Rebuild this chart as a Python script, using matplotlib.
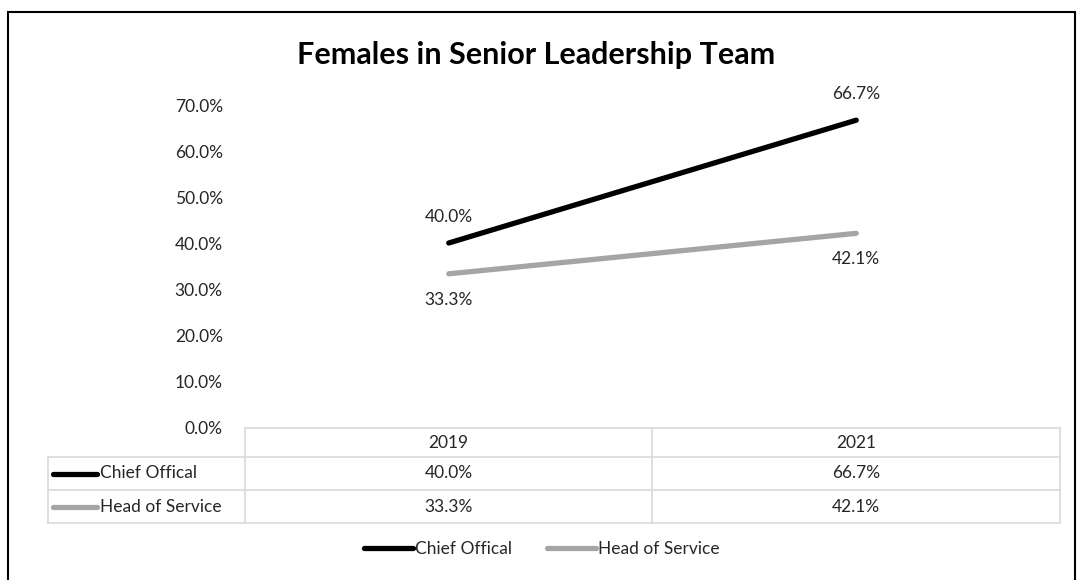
import matplotlib
matplotlib.use('Agg')
import matplotlib.pyplot as plt
from matplotlib.lines import Line2D
from matplotlib.patches import Rectangle

# Data
years = ['2019', '2021']
series_names = ['Chief Offical', 'Head of Service']
chief = [0.400, 0.667]
head = [0.333, 0.421]
series_values = [chief, head]
series_colors = ['#000000', '#a5a5a5']
yticks = [0.0, 0.1, 0.2, 0.3, 0.4, 0.5, 0.6, 0.7]

plt.rcParams['font.family'] = ['Lato', 'DejaVu Sans']
FS = 12.5
TXT = '#262626'

W, H = 1080, 580
fig = plt.figure(figsize=(W / 100, H / 100), dpi=100)


def fx(px):
    return px / W


def fy(py):
    return 1 - py / H


# outer border
fig.add_artist(Rectangle((fx(8), fy(580) - 0.01), fx(1075) - fx(8), fy(12) - fy(580) + 0.01,
                         transform=fig.transFigure, fill=False, edgecolor='black', linewidth=1.5))

# plot area
x0, x1 = 245, 1060
y0, y1 = 427, 105
ax = fig.add_axes([fx(x0), fy(y0), fx(x1) - fx(x0), fy(y1) - fy(y0)])
ax.set_xlim(-0.5, len(years) - 0.5)
ax.set_ylim(0, 0.70)
for s in ax.spines.values():
    s.set_visible(False)
ax.set_xticks([])
ax.set_yticks(yticks)
ax.set_yticklabels([f'{v * 100:.1f}%' for v in yticks], fontsize=FS, color=TXT)
ax.tick_params(axis='y', length=0, pad=16)
ax.patch.set_alpha(0)

xs = list(range(len(years)))
for vals, col in zip(series_values, series_colors):
    ax.plot(xs, vals, color=col, linewidth=3.8, solid_capstyle='round')

# data labels: Chief above, Head below
for x, v in zip(xs, chief):
    ax.annotate(f'{v * 100:.1f}%', (x, v), xytext=(0, 13), textcoords='offset points',
                ha='center', va='bottom', fontsize=FS, color=TXT)
for x, v in zip(xs, head):
    ax.annotate(f'{v * 100:.1f}%', (x, v), xytext=(0, -13), textcoords='offset points',
                ha='center', va='top', fontsize=FS, color=TXT)

fig.text(fx(536), fy(55), 'Females in Senior Leadership Team', ha='center', va='center',
         fontsize=22, fontweight='bold', color='black')

# data table
grid_col = '#d9d9d9'
col_edges = [48, 245, 652, 1060]
row_edges = [428, 457, 490, 523]


def hline(y, xa, xb):
    fig.add_artist(Line2D([fx(xa), fx(xb)], [fy(y), fy(y)], transform=fig.transFigure,
                          color=grid_col, linewidth=1.2))


def vline(x, ya, yb):
    fig.add_artist(Line2D([fx(x), fx(x)], [fy(ya), fy(yb)], transform=fig.transFigure,
                          color=grid_col, linewidth=1.2))


hline(row_edges[0], col_edges[1], col_edges[-1])
for y in row_edges[1:]:
    hline(y, col_edges[0], col_edges[-1])
vline(col_edges[0], row_edges[1], row_edges[-1])
for x in col_edges[1:]:
    vline(x, row_edges[0], row_edges[-1])

for j, yr in enumerate(years):
    cx = (col_edges[j + 1] + col_edges[j + 2]) / 2
    fig.text(fx(cx), fy((row_edges[0] + row_edges[1]) / 2), yr, ha='center', va='center',
             fontsize=FS, color=TXT)

for i, (name, vals, col) in enumerate(zip(series_names, series_values, series_colors)):
    cy = (row_edges[i + 1] + row_edges[i + 2]) / 2
    fig.add_artist(Line2D([fx(53), fx(97)], [fy(cy), fy(cy)], transform=fig.transFigure,
                          color=col, linewidth=3.8, solid_capstyle='round'))
    fig.text(fx(100), fy(cy), name, ha='left', va='center', fontsize=FS, color=TXT)
    for j, v in enumerate(vals):
        cx = (col_edges[j + 1] + col_edges[j + 2]) / 2
        fig.text(fx(cx), fy(cy), f'{v * 100:.1f}%', ha='center', va='center',
                 fontsize=FS, color=TXT)

# bottom legend
handles = [Line2D([], [], color=c, linewidth=3.8, solid_capstyle='round') for c in series_colors]
fig.legend(handles, series_names, loc='center', bbox_to_anchor=(fx(542), fy(549)), ncol=2,
           frameon=False, fontsize=FS, handlelength=2.8, handletextpad=0.15, columnspacing=2.0,
           labelcolor=TXT)

fig.savefig('out.png', dpi=100)
